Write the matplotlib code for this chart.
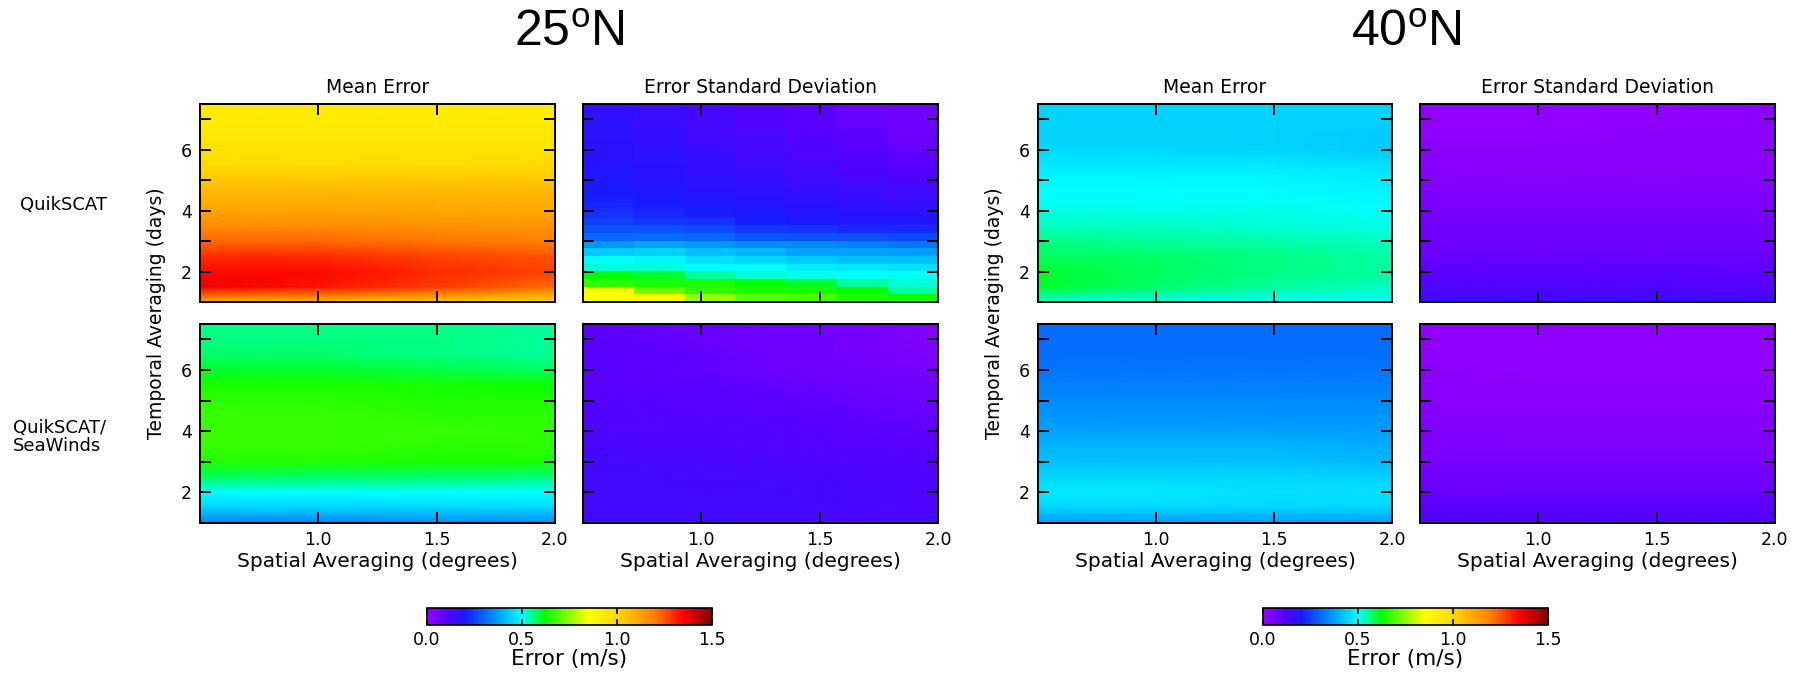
import matplotlib
matplotlib.use("Agg")
import matplotlib.pyplot as plt
import numpy as np
from matplotlib.colors import LinearSegmentedColormap

plt.rcParams["font.family"] = ["DejaVu Sans"]
plt.rcParams["mathtext.fontset"] = "custom"
plt.rcParams["mathtext.rm"] = "Liberation Sans"

W, H = 1804, 675

# ---------------------------------------------------------------------------
# Data (error in m/s)
# ---------------------------------------------------------------------------
SPATIAL = [0.5, 1.0, 1.5, 2.0]                       # degrees
TEMPORAL = [1.0, 1.5, 2.0, 2.5, 3.0, 3.5, 4.0, 4.5,
            5.0, 5.5, 6.0, 6.5, 7.0, 7.5]            # days
X_RANGE = (0.5, 2.0)
Y_RANGE = (1.0, 7.5)

# 25N QuikSCAT mean error (rows = temporal, cols = spatial)
mean_25_qs = [
    [1.08, 1.05, 1.02, 0.98],
    [1.37, 1.33, 1.28, 1.22],
    [1.34, 1.34, 1.30, 1.27],
    [1.30, 1.30, 1.27, 1.25],
    [1.23, 1.23, 1.21, 1.20],
    [1.17, 1.17, 1.16, 1.15],
    [1.12, 1.12, 1.11, 1.11],
    [1.08, 1.08, 1.08, 1.08],
    [1.04, 1.04, 1.04, 1.04],
    [1.00, 1.00, 1.00, 1.00],
    [0.96, 0.96, 0.96, 0.96],
    [0.94, 0.94, 0.94, 0.94],
    [0.93, 0.93, 0.93, 0.93],
    [0.92, 0.92, 0.92, 0.92],
]

# 25N QuikSCAT error std dev, 7 spatial bins x 26 six-hourly bins (bottom row first)
std_25_qs = [
    [0.86, 0.85, 0.76, 0.70, 0.68, 0.65, 0.63],
    [0.84, 0.72, 0.66, 0.65, 0.64, 0.62, 0.55],
    [0.66, 0.64, 0.64, 0.62, 0.60, 0.55, 0.52],
    [0.62, 0.60, 0.55, 0.52, 0.51, 0.50, 0.50],
    [0.52, 0.52, 0.50, 0.50, 0.48, 0.47, 0.46],
    [0.50, 0.49, 0.46, 0.45, 0.43, 0.42, 0.42],
    [0.43, 0.44, 0.42, 0.40, 0.38, 0.38, 0.37],
    [0.36, 0.38, 0.36, 0.35, 0.34, 0.33, 0.32],
    [0.30, 0.31, 0.30, 0.28, 0.27, 0.27, 0.26],
    [0.27, 0.27, 0.26, 0.24, 0.23, 0.22, 0.22],
    [0.25, 0.24, 0.23, 0.21, 0.20, 0.19, 0.19],
    [0.23, 0.22, 0.21, 0.20, 0.19, 0.18, 0.18],
    [0.22, 0.21, 0.20, 0.19, 0.18, 0.17, 0.16],
    [0.21, 0.20, 0.19, 0.18, 0.17, 0.16, 0.15],
    [0.20, 0.19, 0.18, 0.17, 0.16, 0.15, 0.14],
    [0.20, 0.19, 0.17, 0.16, 0.15, 0.14, 0.13],
    [0.19, 0.18, 0.17, 0.16, 0.14, 0.13, 0.12],
    [0.19, 0.18, 0.16, 0.15, 0.14, 0.12, 0.11],
    [0.18, 0.17, 0.16, 0.14, 0.13, 0.12, 0.10],
    [0.18, 0.17, 0.15, 0.14, 0.12, 0.11, 0.09],
    [0.18, 0.16, 0.15, 0.13, 0.12, 0.10, 0.08],
    [0.17, 0.16, 0.14, 0.13, 0.11, 0.10, 0.08],
    [0.17, 0.16, 0.14, 0.12, 0.11, 0.09, 0.07],
    [0.17, 0.15, 0.14, 0.12, 0.10, 0.08, 0.07],
    [0.16, 0.15, 0.13, 0.12, 0.10, 0.08, 0.06],
    [0.16, 0.15, 0.13, 0.11, 0.09, 0.07, 0.06],
]

mean_25_qssw = [
    [0.33, 0.33, 0.34, 0.34],
    [0.44, 0.44, 0.45, 0.45],
    [0.50, 0.50, 0.50, 0.50],
    [0.58, 0.57, 0.57, 0.56],
    [0.65, 0.65, 0.64, 0.64],
    [0.67, 0.67, 0.66, 0.66],
    [0.67, 0.67, 0.67, 0.66],
    [0.67, 0.67, 0.66, 0.66],
    [0.66, 0.66, 0.65, 0.65],
    [0.64, 0.64, 0.64, 0.63],
    [0.60, 0.60, 0.59, 0.58],
    [0.57, 0.57, 0.56, 0.55],
    [0.56, 0.56, 0.56, 0.55],
    [0.56, 0.56, 0.56, 0.55],
]

std_25_qssw = [
    [0.14, 0.14, 0.13, 0.13],
    [0.14, 0.14, 0.13, 0.12],
    [0.14, 0.14, 0.13, 0.12],
    [0.14, 0.13, 0.13, 0.12],
    [0.13, 0.13, 0.12, 0.11],
    [0.13, 0.12, 0.11, 0.10],
    [0.12, 0.12, 0.11, 0.09],
    [0.12, 0.11, 0.10, 0.08],
    [0.11, 0.10, 0.09, 0.07],
    [0.11, 0.10, 0.08, 0.06],
    [0.10, 0.09, 0.07, 0.05],
    [0.10, 0.09, 0.06, 0.04],
    [0.10, 0.08, 0.06, 0.03],
    [0.10, 0.08, 0.05, 0.03],
]

mean_40_qs = [
    [0.52, 0.51, 0.50, 0.50],
    [0.60, 0.57, 0.55, 0.53],
    [0.60, 0.58, 0.56, 0.55],
    [0.58, 0.57, 0.56, 0.54],
    [0.56, 0.55, 0.54, 0.53],
    [0.53, 0.53, 0.52, 0.51],
    [0.51, 0.51, 0.51, 0.50],
    [0.50, 0.50, 0.50, 0.49],
    [0.49, 0.49, 0.49, 0.48],
    [0.47, 0.47, 0.47, 0.46],
    [0.45, 0.45, 0.44, 0.43],
    [0.44, 0.44, 0.44, 0.43],
    [0.44, 0.44, 0.44, 0.44],
    [0.44, 0.44, 0.44, 0.44],
]

std_40_qs = [
    [0.15, 0.15, 0.15, 0.14],
    [0.12, 0.12, 0.12, 0.11],
    [0.10, 0.10, 0.10, 0.09],
    [0.08, 0.08, 0.08, 0.08],
    [0.07, 0.07, 0.07, 0.07],
    [0.06, 0.06, 0.06, 0.06],
    [0.05, 0.05, 0.05, 0.05],
    [0.04, 0.04, 0.04, 0.04],
    [0.03, 0.03, 0.03, 0.03],
    [0.02, 0.02, 0.02, 0.02],
    [0.02, 0.02, 0.02, 0.02],
    [0.01, 0.01, 0.02, 0.02],
    [0.01, 0.01, 0.01, 0.02],
    [0.01, 0.01, 0.01, 0.02],
]

mean_40_qssw = [
    [0.36, 0.36, 0.36, 0.36],
    [0.45, 0.45, 0.45, 0.45],
    [0.47, 0.47, 0.46, 0.46],
    [0.45, 0.45, 0.45, 0.44],
    [0.42, 0.42, 0.42, 0.41],
    [0.40, 0.40, 0.40, 0.39],
    [0.38, 0.38, 0.38, 0.37],
    [0.36, 0.36, 0.36, 0.36],
    [0.35, 0.35, 0.35, 0.34],
    [0.33, 0.33, 0.33, 0.33],
    [0.32, 0.32, 0.32, 0.32],
    [0.31, 0.31, 0.31, 0.31],
    [0.31, 0.31, 0.31, 0.31],
    [0.31, 0.31, 0.31, 0.31],
]

std_40_qssw = [
    [0.12, 0.12, 0.12, 0.12],
    [0.10, 0.10, 0.10, 0.10],
    [0.08, 0.08, 0.08, 0.08],
    [0.07, 0.07, 0.06, 0.06],
    [0.05, 0.05, 0.05, 0.05],
    [0.04, 0.04, 0.04, 0.04],
    [0.04, 0.03, 0.03, 0.03],
    [0.03, 0.03, 0.03, 0.03],
    [0.02, 0.02, 0.02, 0.02],
    [0.02, 0.02, 0.02, 0.02],
    [0.02, 0.01, 0.01, 0.01],
    [0.01, 0.01, 0.01, 0.01],
    [0.01, 0.01, 0.01, 0.01],
    [0.01, 0.01, 0.01, 0.01],
]

LATITUDES = ["25", "40"]
ROW_NAMES = ["QuikSCAT", "QuikSCAT/\nSeaWinds"]
COL_TITLES = ["Mean Error", "Error Standard Deviation"]
PANELS = {
    ("25", 0, 0): mean_25_qs, ("25", 0, 1): std_25_qs,
    ("25", 1, 0): mean_25_qssw, ("25", 1, 1): std_25_qssw,
    ("40", 0, 0): mean_40_qs, ("40", 0, 1): std_40_qs,
    ("40", 1, 0): mean_40_qssw, ("40", 1, 1): std_40_qssw,
}
BLOCKY = {("25", 0, 1)}

# IDL-like rainbow colour table
CMAP_NODES = [0.0, 0.10, 0.20, 0.33, 0.50, 0.62, 0.85, 1.00, 1.20, 1.35, 1.50]
CMAP_COLORS = ["#9400ff", "#5a00ff", "#1a1aff", "#0080ff", "#00ffff", "#00ff00",
               "#ffff00", "#ffd900", "#ff8000", "#ff0000", "#800000"]
VMIN, VMAX = 0.0, 1.5
cmap = LinearSegmentedColormap.from_list(
    "idl_rainbow", list(zip([v / VMAX for v in CMAP_NODES], CMAP_COLORS)))

# ---------------------------------------------------------------------------
# Layout (pixel boxes -> figure fractions)
# ---------------------------------------------------------------------------
COL_X = {"25": [(200, 555), (583, 938)], "40": [(1038, 1392), (1420, 1775)]}
ROW_Y = [(104, 302), (324, 523)]
CBAR_X = {"25": (427, 712), "40": (1263, 1548)}
CBAR_Y = (608, 625)


def rect(x0, x1, y0, y1):
    return [x0 / W, 1 - y1 / H, (x1 - x0) / W, (y1 - y0) / H]


fig = plt.figure(figsize=(W / 100, H / 100), dpi=100)

for lat in LATITUDES:
    cols = COL_X[lat]
    gx0, gx1 = cols[0][0], cols[1][1]
    fig.text((gx0 + gx1) / 2 / W, 1 - 33 / H, lat + r"$^{\rm o}$N",
             ha="center", va="center", fontsize=36, family="Liberation Sans")

    for r in range(2):
        for c in range(2):
            (x0, x1), (y0, y1) = cols[c], ROW_Y[r]
            ax = fig.add_axes(rect(x0, x1, y0, y1))
            z = np.array(PANELS[(lat, r, c)])
            if (lat, r, c) in BLOCKY:
                ax.imshow(z, cmap=cmap, vmin=VMIN, vmax=VMAX, origin="lower",
                          extent=(*X_RANGE, *Y_RANGE), aspect="auto",
                          interpolation="nearest")
            else:
                ax.pcolormesh(SPATIAL, TEMPORAL, z, cmap=cmap, vmin=VMIN,
                              vmax=VMAX, shading="gouraud")
            ax.set_xlim(*X_RANGE)
            ax.set_ylim(*Y_RANGE)
            ax.set_xticks([1.0, 1.5, 2.0])
            ax.set_yticks([1, 2, 3, 4, 5, 6, 7])
            ax.tick_params(direction="in", length=8, width=1.4, top=True,
                           right=True, labelsize=12.5, pad=6, colors="black")
            for s in ax.spines.values():
                s.set_linewidth(1.4)
            if r == 0:
                ax.set_xticklabels([])
                ax.set_title(COL_TITLES[c], fontsize=13.5, pad=8)
            else:
                ax.set_xticklabels(["1.0", "1.5", "2.0"])
                ax.set_xlabel("Spatial Averaging (degrees)", fontsize=14.5,
                              labelpad=2)
            if c == 0:
                ax.set_yticklabels(["", "2", "", "4", "", "6", ""])
            else:
                ax.set_yticklabels([])

    # shared y label
    fig.text((gx0 - 43) / W, 1 - 313 / H, "Temporal Averaging (days)",
             rotation=90, ha="center", va="center", fontsize=13.5)

    # colour bar
    cax = fig.add_axes(rect(*CBAR_X[lat], *CBAR_Y))
    sm = plt.cm.ScalarMappable(cmap=cmap, norm=plt.Normalize(VMIN, VMAX))
    cb = fig.colorbar(sm, cax=cax, orientation="horizontal")
    cb.set_ticks([0.0, 0.5, 1.0, 1.5])
    cb.set_ticklabels(["0.0", "0.5", "1.0", "1.5"])
    cb.ax.tick_params(direction="in", length=4, width=1.2, top=True,
                      labelsize=12.5, pad=4)
    cb.outline.set_linewidth(1.2)
    cb.set_label("Error (m/s)", fontsize=15.5, labelpad=0)

# row labels on the far left
fig.text(20 / W, 1 - 205 / H, ROW_NAMES[0], ha="left", va="center", fontsize=13)
fig.text(13 / W, 1 - 437 / H, ROW_NAMES[1], ha="left", va="center",
         fontsize=13, linespacing=0.95)

fig.savefig("out.png", dpi=100)
